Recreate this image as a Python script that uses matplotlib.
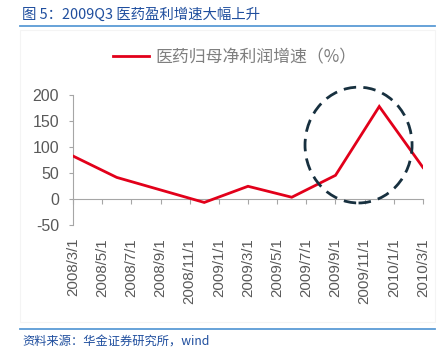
import matplotlib
matplotlib.use("Agg")
import matplotlib.pyplot as plt
from matplotlib.patches import Ellipse, Rectangle
from matplotlib.lines import Line2D
import pandas as pd

plt.rcParams['font.family'] = ['Noto Sans CJK SC', 'DejaVu Sans']

# ---- data ----
dates = ['2008/3/1', '2008/6/1', '2008/9/1', '2008/12/1', '2009/3/1',
         '2009/6/1', '2009/9/1', '2009/12/1', '2010/3/1']
growth = [83, 42, 18, -6, 25, 4, 46, 178, 61]
tick_labels = ['2008/3/1', '2008/5/1', '2008/7/1', '2008/9/1', '2008/11/1',
               '2009/1/1', '2009/3/1', '2009/5/1', '2009/7/1', '2009/9/1',
               '2009/11/1', '2010/1/1', '2010/3/1']
y_ticks = [-50, 0, 50, 100, 150, 200]
series_name = '医药归母净利润增速（%）'
title = '图 5：2009Q3 医药盈利增速大幅上升'
source = '资料来源：华金证券研究所，wind'

def month_index(s, base=pd.Timestamp('2008-03-01')):
    d = pd.Timestamp(s)
    return (d.year - base.year) * 12 + (d.month - base.month)

x = [month_index(d) for d in dates]
xt = [month_index(d) for d in tick_labels]

W, H = 443, 353
fig = plt.figure(figsize=(W / 100, H / 100), dpi=100)
fig.patch.set_facecolor('white')

# faint chart frame
fig.add_artist(Rectangle((20 / W, 1 - 322 / H), 415 / W, 292 / H,
                         transform=fig.transFigure, fill=False,
                         edgecolor='#F4F4F4', linewidth=0.8))

ax = fig.add_axes([73 / W, 1 - 225.4 / H, 350 / W, 130.4 / H])
ax.set_facecolor('none')

line, = ax.plot(x, growth, color='#E2001A', linewidth=2.0,
                solid_joinstyle='miter', label=series_name, zorder=3)

ax.set_xlim(xt[0], xt[-1])
ax.set_ylim(-50, 200)
ax.set_yticks(y_ticks)
ax.set_yticklabels([str(v) for v in y_ticks], family='Liberation Sans',
                   fontsize=11.5, color='#595959')
ax.set_xticks(xt)
ax.set_xticklabels(tick_labels, rotation=90, family='Liberation Sans',
                   fontsize=10.8, color='#595959', va='top', ha='center')
ax.tick_params(axis='x', length=0, pad=9)
ax.tick_params(axis='y', length=3, width=0.8, color='#A6A6A6', pad=7,
               direction='out')

for s in ['top', 'right', 'bottom']:
    ax.spines[s].set_visible(False)
ax.spines['left'].set_color('#A6A6A6')
ax.spines['left'].set_linewidth(0.8)

# zero axis line with tick marks
sec = ax.secondary_xaxis(0.2)
sec.set_xticks(xt)
sec.set_xticklabels([''] * len(xt))
sec.tick_params(length=3.5, width=0.8, color='#A6A6A6', direction='out')
sec.spines['bottom'].set_color('#A6A6A6')
sec.spines['bottom'].set_linewidth(0.8)

# dashed highlight ellipse
ax.add_patch(Ellipse((19.58, 104), 7.34, 222, fill=False,
                     edgecolor='#17303F', linewidth=2.0,
                     linestyle=(0, (4.5, 2.6)), clip_on=False, zorder=4))

# legend
fig.legend(handles=[line], loc='center left',
           bbox_to_anchor=(113 / W, 1 - 57 / H), frameon=False,
           borderpad=0, borderaxespad=0, handlelength=2.1,
           handletextpad=0.4, prop={'size': 12.2},
           labelcolor='#7F7F7F')

# title and rules
fig.text(22 / W, 1 - 15 / H, title, fontsize=10.4, color='#1F4E9E',
         va='center', ha='left')
fig.add_artist(Line2D([20 / W, 435 / W], [1 - 25.5 / H, 1 - 25.5 / H],
                      transform=fig.transFigure, color='#5B9BD5',
                      linewidth=1.3))
fig.add_artist(Line2D([20 / W, 435 / W], [1 - 328.5 / H, 1 - 328.5 / H],
                      transform=fig.transFigure, color='#5B9BD5',
                      linewidth=1.3))
fig.text(22 / W, 1 - 342 / H, source, fontsize=8.8, color='#1F4E9E',
         style='italic', va='center', ha='left')

fig.savefig('out.png', dpi=100)
